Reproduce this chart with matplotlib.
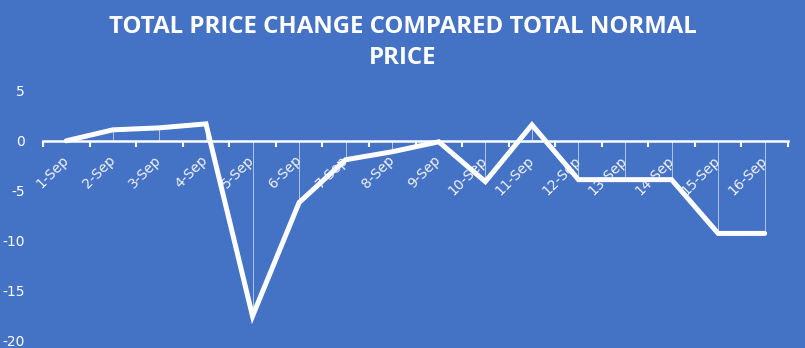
import matplotlib
matplotlib.use("Agg")
import matplotlib.pyplot as plt
import matplotlib.transforms as mtransforms
import numpy as np

plt.rcParams["axes.unicode_minus"] = False

categories = ["1-Sep", "2-Sep", "3-Sep", "4-Sep", "5-Sep", "6-Sep", "7-Sep", "8-Sep",
              "9-Sep", "10-Sep", "11-Sep", "12-Sep", "13-Sep", "14-Sep", "15-Sep", "16-Sep"]
values = [0.0, 1.1, 1.3, 1.7, -17.6, -6.2, -1.9, -1.1, -0.1, -4.1, 1.6, -3.9, -3.9, -3.9, -9.3, -9.3]
yticks = [-20, -15, -10, -5, 0, 5]
title = "TOTAL PRICE CHANGE COMPARED TOTAL NORMAL\nPRICE"

BG = "#4472C4"
fig = plt.figure(figsize=(8.05, 3.48), dpi=100, facecolor=BG)
ax = fig.add_axes([43/805, 8/348, 745/805, 249/348])
ax.set_facecolor(BG)

x = np.arange(len(categories))
ax.vlines(x, 0, values, color="#B4C3E0", lw=0.7, zorder=1)
ax.plot(x, values, color="white", lw=3.6, solid_joinstyle="miter", solid_capstyle="round", zorder=3)

ax.set_xlim(-0.5, len(categories) - 0.5)
ax.set_ylim(-20, 5)
ax.set_yticks(yticks)
ax.tick_params(axis="y", length=0, colors="white", labelsize=10, pad=13)

for s in ["left", "right", "top"]:
    ax.spines[s].set_visible(False)
ax.spines["bottom"].set_position(("data", 0))
ax.spines["bottom"].set_color("white")
ax.spines["bottom"].set_linewidth(1.8)

ax.set_xticks(np.arange(-0.5, len(categories)), minor=False)
ax.set_xticklabels([])
ax.tick_params(axis="x", which="major", direction="out", length=4, width=1.5, color="white")
ax.set_xticks(x, minor=True)
ax.set_xticklabels(categories, minor=True, rotation=45, ha="right", va="top",
                   rotation_mode="anchor")
ax.tick_params(axis="x", which="minor", length=0, pad=4, labelsize=10, labelcolor="#F2F2F2")
offset = mtransforms.ScaledTranslation(-5/100, -7/100, fig.dpi_scale_trans)
for lab in ax.get_xticklabels(minor=True):
    lab.set_zorder(2)
    lab.set_transform(lab.get_transform() + offset)

fig.text(0.5, 1 - 42.5/348, title, ha="center", va="center", color="white",
         fontsize=17.3, fontweight="bold", family=["Open Sans", "DejaVu Sans"],
         linespacing=1.4)

fig.savefig("out.png", dpi=100, facecolor=BG)
